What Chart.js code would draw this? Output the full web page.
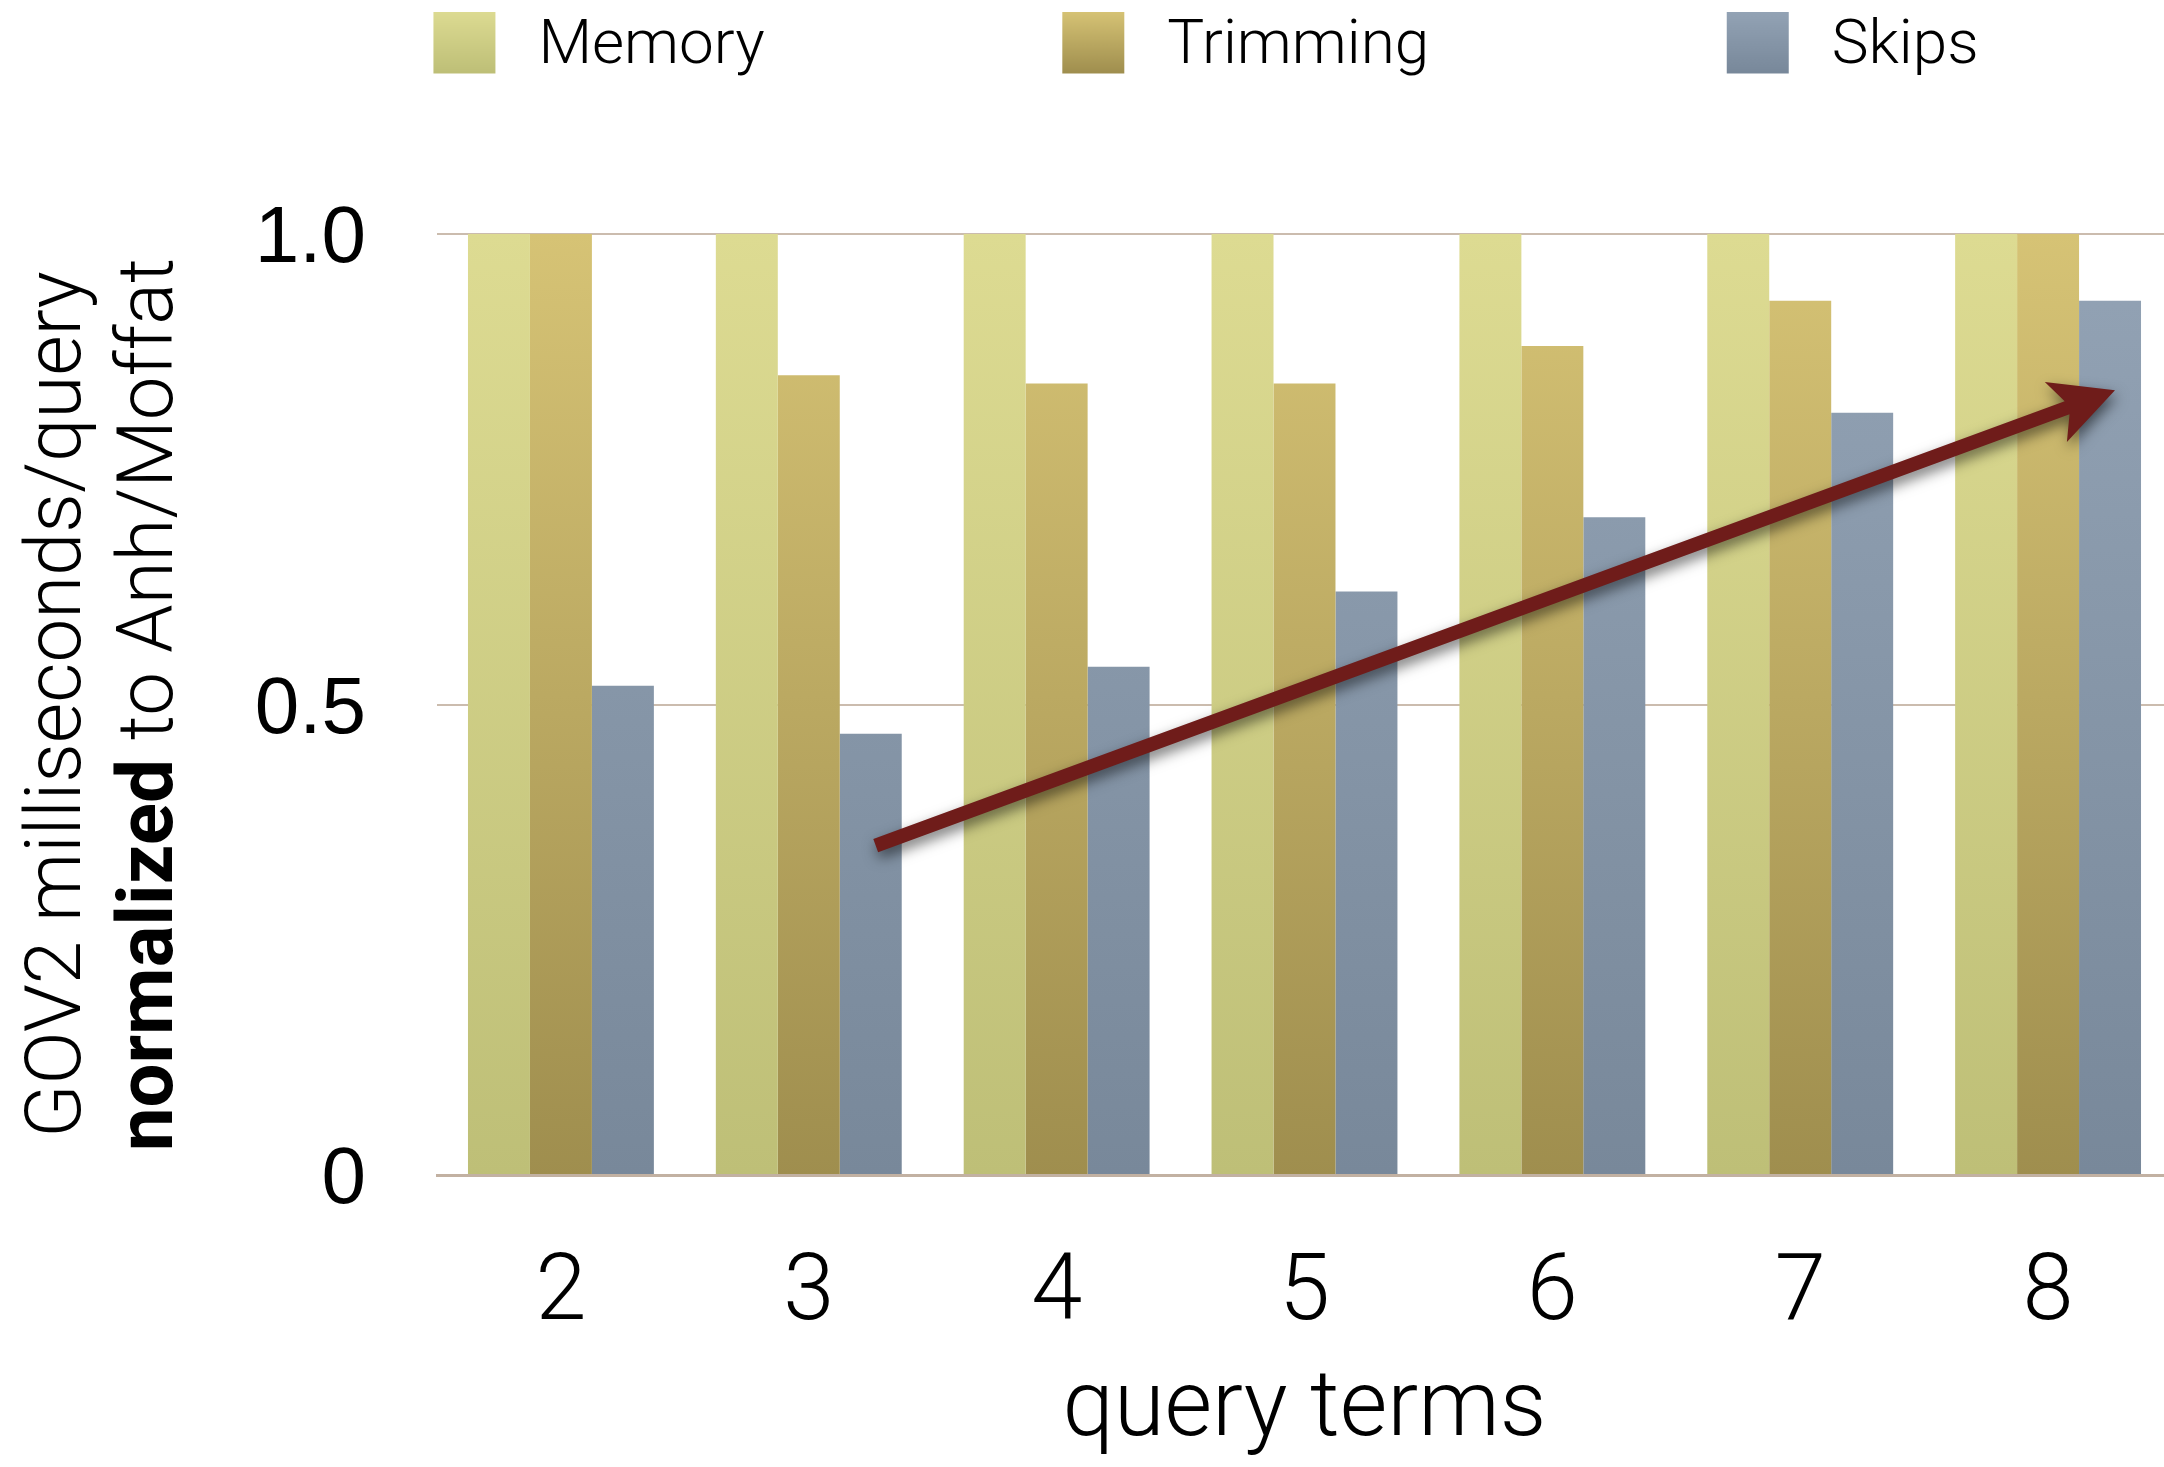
<!DOCTYPE html>
<html><head><meta charset="utf-8">
<script src="https://cdn.jsdelivr.net/npm/chart.js@4/dist/chart.umd.min.js"></script>
<style>
html,body{margin:0;padding:0;background:#fff;overflow:hidden;}
#wrap{width:2172px;height:1467px;position:relative;}
</style></head><body>
<div id="wrap"><canvas id="c" width="2172" height="1467"></canvas></div>
<script>
// ---- data ----
const categories = ['2','3','4','5','6','7','8'];
const seriesNames = ['Memory','Trimming','Skips'];
const memory   = [1.0, 1.0, 1.0, 1.0, 1.0, 1.0, 1.0];
const trimming = [1.0, 0.85, 0.841, 0.841, 0.881, 0.929, 1.0];
const skips    = [0.52, 0.469, 0.54, 0.62, 0.699, 0.81, 0.929];
const yTickValues = [0, 0.5, 1.0];
const yTickLabels = ['0', '0.5', '1.0'];
const yTitleLine1 = 'GOV2 milliseconds/query';
const yTitleBold = 'normalized';
const yTitleRest = ' to Anh/Moffat';
const xTitle = 'query terms';
// trend arrow, in data coordinates: [category index, value]
const arrowFrom = [1.27, 0.35];
const arrowTo   = [6.27, 0.834];

// ---- styles ----
const palette = [
  {top:'#dddb92', bottom:'#bebf77'},
  {top:'#d6c375', bottom:'#9f8e4e'},
  {top:'#93a3b5', bottom:'#78889a'}
];
const LIGHT = 'Roboto';
const gradCache = {};
function barFill(i){
  return (ctx) => {
    const chart = ctx.chart, a = chart.chartArea;
    if (!a) return palette[i].top;
    const key = i + ':' + a.top + ':' + a.bottom;
    if (!gradCache[key]) {
      const g = chart.ctx.createLinearGradient(0, a.top, 0, a.bottom);
      g.addColorStop(0, palette[i].top);
      g.addColorStop(1, palette[i].bottom);
      gradCache[key] = g;
    }
    return gradCache[key];
  };
}
// legend icons: swatch drawn at the upper right of a wide transparent canvas
const ICON_W = 314, ICON_H = 72, SW = 62, SW_GAP = 12;
const legendIcons = palette.map(p => {
  const c = document.createElement('canvas');
  c.width = ICON_W; c.height = ICON_H;
  const g2 = c.getContext('2d');
  const g = g2.createLinearGradient(0, 0, 0, SW);
  g.addColorStop(0, p.top); g.addColorStop(1, p.bottom);
  g2.fillStyle = g;
  g2.fillRect(ICON_W - SW - SW_GAP, 0, SW, SW);
  return c;
});

const arrowPlugin = {
  id: 'trendArrow',
  afterDatasetsDraw(chart){
    const xs = chart.scales.x, ys = chart.scales.y, ctx = chart.ctx;
    const x0 = xs.getPixelForValue(arrowFrom[0]), y0 = ys.getPixelForValue(arrowFrom[1]);
    const x1 = xs.getPixelForValue(arrowTo[0]),   y1 = ys.getPixelForValue(arrowTo[1]);
    const dx = x1 - x0, dy = y1 - y0, L = Math.hypot(dx, dy);
    const ux = dx / L, uy = dy / L, nx = -uy, ny = ux;
    const hw = 7, headLen = 63, neck = 51, headHw = 32;
    const P = (a, b) => [x1 - ux*a + nx*b, y1 - uy*a + ny*b];
    const pts = [
      [x0 + nx*hw, y0 + ny*hw], P(neck, hw), P(headLen, headHw), [x1, y1],
      P(headLen, -headHw), P(neck, -hw), [x0 - nx*hw, y0 - ny*hw]
    ];
    ctx.save();
    ctx.shadowColor = 'rgba(0,0,0,0.55)';
    ctx.shadowBlur = 14; ctx.shadowOffsetX = 2; ctx.shadowOffsetY = 6;
    ctx.fillStyle = '#6f1c1a';
    ctx.beginPath();
    pts.forEach((p, i) => i ? ctx.lineTo(p[0], p[1]) : ctx.moveTo(p[0], p[1]));
    ctx.closePath(); ctx.fill();
    ctx.restore();
  }
};

const yTitlePlugin = {
  id: 'yTitleLine2',
  afterDraw(chart){
    const s = chart.scales.y, ctx = chart.ctx, t = s.options.title;
    const f = Chart.helpers.toFont(t.font);
    const pad = Chart.helpers.toPadding(t.padding);
    const cx = s.left + pad.top + f.lineHeight * 1.5;
    const cy = (s.top + s.bottom) / 2;
    ctx.save();
    ctx.translate(cx, cy); ctx.rotate(-Math.PI / 2);
    ctx.textBaseline = 'middle'; ctx.textAlign = 'left'; ctx.fillStyle = '#000';
    const boldFont = `700 ${f.size}px ${LIGHT}`, lightFont = `300 ${f.size}px ${LIGHT}`;
    ctx.font = boldFont; const wb = ctx.measureText(yTitleBold).width;
    ctx.font = lightFont; const wr = ctx.measureText(yTitleRest).width;
    const start = -(wb + wr) / 2;
    ctx.font = boldFont; ctx.fillText(yTitleBold, start, 0);
    ctx.font = lightFont; ctx.fillText(yTitleRest, start + wb, 0);
    ctx.restore();
  }
};

const datasets = [memory, trimming, skips].map((d, i) => ({
  label: seriesNames[i], data: d, backgroundColor: barFill(i), borderWidth: 0,
  categoryPercentage: 0.75, barPercentage: 1.0
}));

new Chart(document.getElementById('c'), {
  type: 'bar',
  data: { labels: categories, datasets },
  plugins: [arrowPlugin, yTitlePlugin],
  options: {
    responsive: false, animation: false, devicePixelRatio: 1,
    layout: { padding: { top: -41, left: 0, right: 0, bottom: 0 } },
    plugins: {
      tooltip: { enabled: false },
      title: { display: true, text: '', weight: 500, position: 'top',
               font: { size: 10, lineHeight: 1 }, padding: { top: 135.5, bottom: 0 } },
      legend: {
        position: 'top', align: 'center',
        labels: {
          usePointStyle: true, pointStyleWidth: ICON_W, padding: 57.5,
          color: '#000', font: { family: LIGHT, weight: '300', size: 62 },
          generateLabels(chart){
            const items = Chart.defaults.plugins.legend.labels.generateLabels(chart);
            return items.map((it, i) => Object.assign(it, { pointStyle: legendIcons[i] }));
          }
        }
      }
    },
    scales: {
      x: {
        grid: { display: false, drawTicks: false },
        border: { display: true, color: '#c2b1a2', width: 3 },
        ticks: { color: '#000', padding: 66, font: { family: LIGHT, weight: '300', size: 92, lineHeight: 1.2 } },
        title: { display: true, text: xTitle, color: '#000', padding: { top: 0, bottom: 0 },
                 font: { family: LIGHT, weight: '300', size: 92, lineHeight: 1.2 } },
        afterFit(s){ s.height = 292; }
      },
      y: {
        min: 0, max: 1,
        afterBuildTicks(s){ s.ticks = yTickValues.map(v => ({ value: v })); },
        grid: { color: '#cbbcae', lineWidth: 2, drawTicks: false },
        border: { display: false },
        ticks: { color: '#000', padding: 71, labelOffset: 6, font: { family: 'Liberation Sans', size: 80 },
                 callback: v => yTickLabels[yTickValues.indexOf(v)] },
        title: { display: true, text: yTitleLine1, color: '#000', padding: { top: 14, bottom: 0 },
                 font: { family: LIGHT, weight: '300', size: 78, lineHeight: 92/78 } },
        afterFit(s){ s.width = 437; }
      }
    }
  }
});
</script>
</body></html>
